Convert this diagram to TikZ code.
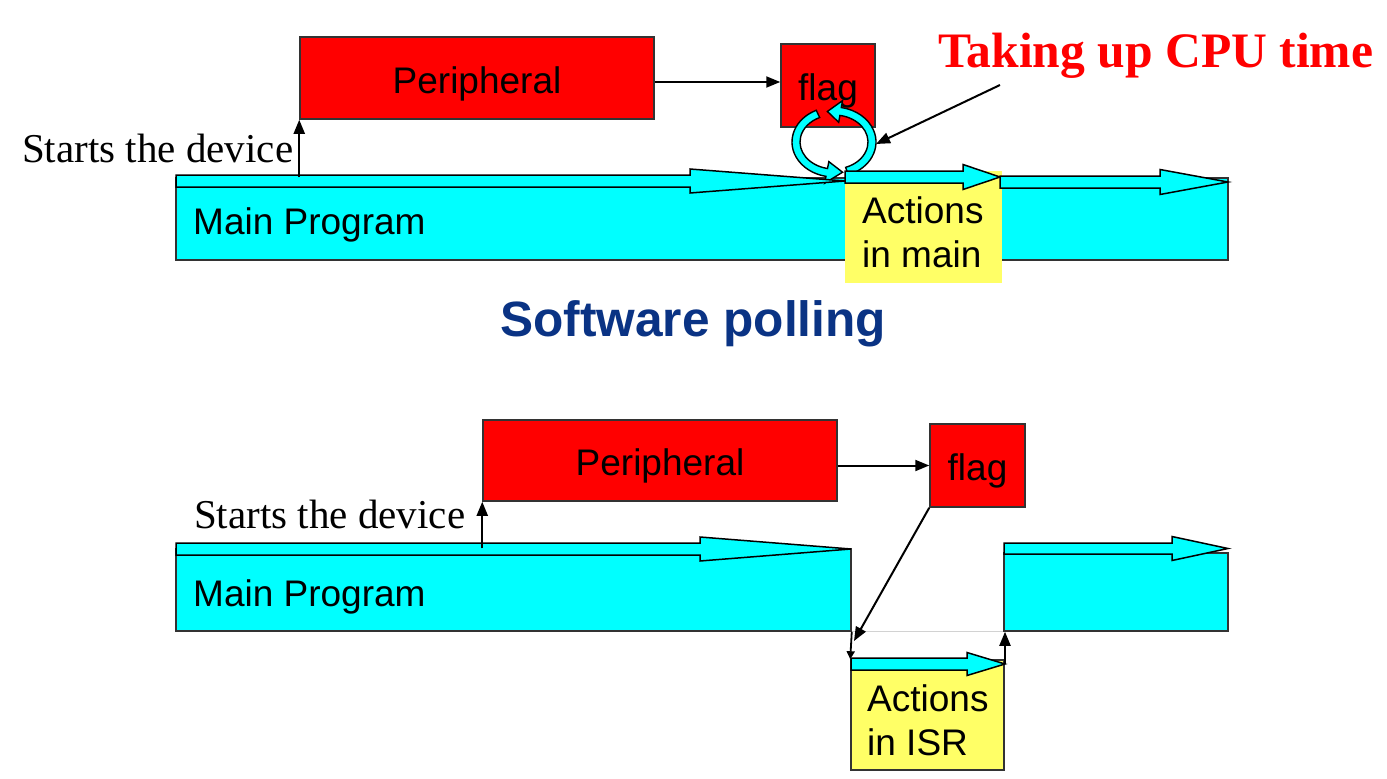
\documentclass[tikz,border=0pt]{standalone}
\usepackage{fontspec}
\setmainfont{Liberation Sans}
\newfontfamily\timesf{Liberation Serif}
\usetikzlibrary{arrows.meta,calc}
\definecolor{boxred}{HTML}{FF0000}
\definecolor{aqua}{HTML}{00FFFF}
\definecolor{paleyellow}{HTML}{FFFF66}
\definecolor{navyblue}{HTML}{0A3384}
\definecolor{edgegray}{HTML}{333333}
\tikzset{
  redbox/.style={draw=edgegray, fill=boxred, line width=1.5pt, inner sep=0pt,
    text height=30pt, text depth=0pt, font=\fontsize{37}{44}\selectfont},
  aquabox/.style={draw=edgegray, fill=aqua, line width=1.5pt, inner sep=0pt},
  yellowbox/.style={fill=paleyellow, inner sep=0pt},
  arrowband/.style={fill=aqua, draw=black, line width=1.5pt, line join=miter},
  ringband/.style={fill=aqua, draw=black, line width=1.4pt, line join=miter},
  conn/.style={line width=2pt, -{Triangle[length=14pt,width=11pt]}},
  smallconn/.style={line width=1.8pt, -{Triangle[length=8pt,width=8pt]}},
  lbl/.style={inner sep=0pt, font=\fontsize{37}{44}\selectfont},
  serif/.style={inner sep=0pt, font=\timesf\fontsize{41}{48}\selectfont},
}
\newcommand{\myblockarrow}[6]{%
  \filldraw[arrowband] (#1,#4-#5) -- (#3,#4-#5) -- (#3,#4-#6) -- (#2,#4) --
    (#3,#4+#6) -- (#3,#4+#5) -- (#1,#4+#5) -- cycle;}
\newcommand{\myringarrow}[3]{%
  \filldraw[ringband] (#1:42 and 35) arc[start angle=#1, end angle=#2, x radius=42, y radius=35]
    -- (#2:49 and 42) -- (#3:38 and 31) -- (#2:27 and 20) -- (#2:34 and 27)
    arc[start angle=#2, end angle=#1, x radius=34, y radius=27] -- cycle;}
\begin{document}
\begin{tikzpicture}[x=1pt, y=-1pt]
\useasboundingbox[fill=white] (0,0) rectangle (1387,779);

% ---------------- top: software polling ----------------
\node[aquabox, minimum width=1052pt, minimum height=82pt] (main1) at (702,219) {};
\node[yellowbox, minimum width=157pt, minimum height=112pt] (act1) at (923.5,227) {};
\node[redbox, minimum width=354pt, minimum height=82pt] (per1) at (477,78) {Peripheral};
\node[redbox, minimum width=94pt, minimum height=83pt, text height=29pt] (flag1) at (828,85.5) {flag};

\begin{scope}[shift={(834pt,-142pt)}, y=1pt]
  \myringarrow{-70}{80}{100}
  \myringarrow{115}{259}{283}
\end{scope}

\myblockarrow{176}{845}{690}{181}{6}{12}
\myblockarrow{845}{1000}{963}{177}{6}{12.5}
\myblockarrow{1000}{1228}{1160}{182}{6}{12.5}

\coordinate (pf1) at ([yshift=-4pt]per1.east);
\draw[conn] (pf1) -- (pf1 -| flag1.west);
\draw[conn] (per1.south west |- main1.north) -- (per1.south west);
\coordinate (cpuFrom) at (1000,85);
\coordinate (ringE) at (876,144);
\draw[conn] (cpuFrom) -- (ringE);

\node[serif, anchor=base west] (start1) at (22,162) {Starts the device};
\node[lbl, anchor=base west] (mp1) at (193,234) {Main Program};
\node[lbl, anchor=base west, align=left] (acttxt1) at (862,267) {Actions\\in main};
\node[inner sep=0pt, anchor=base west, text=red, font=\timesf\bfseries\fontsize{49.6}{58}\selectfont] (cpu) at (938,67) {Taking up CPU time};
\node[inner sep=0pt, anchor=base west, text=navyblue, font=\bfseries\fontsize{49.6}{58}\selectfont] (title) at (500,336) {Software polling};

% ---------------- bottom: interrupt ----------------
\node[aquabox, minimum width=675pt, minimum height=82pt] (mainL) at (513.5,590) {};
\node[aquabox, minimum width=224pt, minimum height=78pt] (mainR) at (1116,592) {};
\node[yellowbox, draw=edgegray, line width=1.5pt, minimum width=153pt, minimum height=110pt] (isr) at (927.5,715) {};
\node[redbox, minimum width=354pt, minimum height=81pt] (per2) at (660,460.5) {Peripheral};
\node[redbox, minimum width=95pt, minimum height=83pt, text height=29pt] (flag2) at (977.5,465.5) {flag};

\draw[gray!35, line width=0.8pt] (mainL.south east) -- (mainR.south west);

\myblockarrow{176}{851}{700}{549}{6}{12}
\myblockarrow{1004}{1228}{1172}{548.5}{5.5}{12}
\myblockarrow{851}{1005}{967}{664}{6}{11.5}

\draw[conn] (per2.east |- flag2.west) -- (flag2.west);
\draw[conn] (per2.south west |- mainL.north) -- (per2.south west);
\coordinate (isrIn) at (854,641);
\draw[conn] (flag2.south west) -- (isrIn);
\draw[smallconn] (mainL.south east) -- (isr.north west);
\coordinate (isrOut) at (1005,664);
\draw[conn] (isrOut) -- (isrOut |- mainR.south);

\node[serif, anchor=base west] (start2) at (194,528) {Starts the device};
\node[lbl, anchor=base west] (mp2) at (193,606) {Main Program};
\node[lbl, anchor=base west, align=left] (acttxt2) at (867,755) {Actions\\in ISR};
\end{tikzpicture}
\end{document}
